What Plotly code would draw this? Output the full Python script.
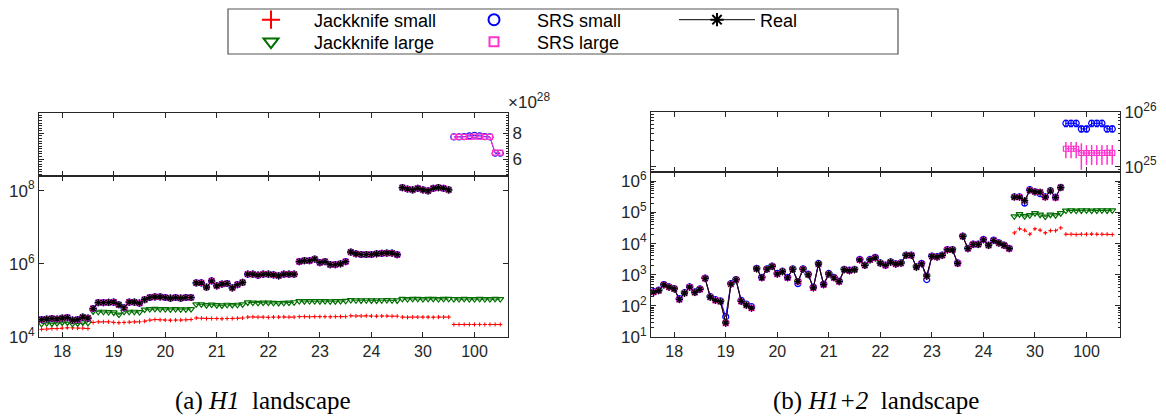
import plotly.graph_objects as go

W, H = 1166, 416

groups = ["18", "19", "20", "21", "22", "23", "24", "30", "100"]
tick_pos = [5, 15, 25, 35, 45, 55, 65, 75, 85]

# ---------------- (a) H1 landscape ----------------
h1_real = [
    [3.0e4, 3.1e4, 3.2e4, 3.1e4, 3.3e4, 3.4e4, 2.9e4, 3.0e4, 3.5e4, 3.3e4],
    [6.0e4, 8.7e4, 8.7e4, 8.8e4, 9.0e4, 7.6e4, 6.3e4, 9.0e4, 9.0e4, 8.4e4],
    [1.05e5, 1.2e5, 1.25e5, 1.25e5, 1.2e5, 1.15e5, 1.2e5, 1.15e5, 1.2e5, 1.2e5],
    [3.0e5, 3.0e5, 2.3e5, 3.4e5, 2.5e5, 2.8e5, 2.9e5, 2.2e5, 2.7e5, 3.1e5],
    [5.2e5, 5.2e5, 4.9e5, 5.2e5, 5.2e5, 5.0e5, 4.7e5, 5.2e5, 5.2e5, 5.2e5],
    [1.15e6, 1.22e6, 1.22e6, 1.35e6, 1.08e6, 1.15e6, 0.95e6, 0.95e6, 1.0e6, 1.15e6],
    [2.1e6, 1.88e6, 1.8e6, 1.8e6, 1.8e6, 1.88e6, 1.93e6, 1.97e6, 1.97e6, 1.78e6],
    [1.21e8, 1.11e8, 1.05e8, 1.16e8, 1.05e8, 0.98e8, 1.16e8, 1.21e8, 1.16e8, 1.05e8],
    None,
]
h1_jk_large = [
    [2.3e4, 2.4e4, 2.35e4, 2.4e4, 2.5e4, 2.5e4, 2.3e4, 2.35e4, 2.5e4, 2.45e4],
    [5.0e4, 4.9e4, 4.9e4, 4.8e4, 4.7e4, 4.1e4, 4.9e4, 4.9e4, 4.9e4, 4.8e4],
    [5.6e4, 5.8e4, 5.9e4, 5.8e4, 5.8e4, 5.7e4, 5.8e4, 5.7e4, 5.7e4, 5.8e4],
    [7.8e4, 7.8e4, 7.4e4, 7.7e4, 7.4e4, 7.3e4, 7.6e4, 7.5e4, 7.6e4, 7.8e4],
    [8.8e4, 8.7e4, 8.6e4, 8.7e4, 8.7e4, 8.6e4, 8.5e4, 8.6e4, 8.7e4, 8.9e4],
    [9.6e4, 9.5e4, 9.6e4, 9.6e4, 9.5e4, 9.6e4, 9.4e4, 9.5e4, 9.6e4, 9.7e4],
    [1.02e5, 1.01e5, 1.0e5, 1.01e5, 1.0e5, 1.0e5, 1.01e5, 1.02e5, 1.01e5, 1.0e5],
    [1.1e5, 1.09e5, 1.1e5, 1.1e5, 1.09e5, 1.1e5, 1.1e5, 1.09e5, 1.1e5, 1.1e5],
    [1.09e5, 1.09e5, 1.1e5, 1.09e5, 1.09e5, 1.1e5, 1.09e5, 1.09e5, 1.1e5, 1.09e5],
]
h1_jk_small = [
    [1.62e4, 1.65e4, 1.7e4, 1.7e4, 1.75e4, 1.8e4, 1.78e4, 1.75e4, 1.75e4, 1.7e4],
    [2.5e4, 2.6e4, 2.6e4, 2.6e4, 2.5e4, 2.45e4, 2.5e4, 2.55e4, 2.6e4, 2.6e4],
    [2.7e4, 2.9e4, 3.0e4, 2.95e4, 2.9e4, 2.85e4, 2.9e4, 2.9e4, 2.95e4, 3.0e4],
    [3.3e4, 3.25e4, 3.2e4, 3.2e4, 3.2e4, 3.15e4, 3.2e4, 3.2e4, 3.25e4, 3.3e4],
    [3.5e4, 3.55e4, 3.5e4, 3.5e4, 3.45e4, 3.5e4, 3.5e4, 3.55e4, 3.5e4, 3.5e4],
    [3.6e4, 3.6e4, 3.55e4, 3.6e4, 3.6e4, 3.6e4, 3.55e4, 3.6e4, 3.6e4, 3.6e4],
    [3.8e4, 3.75e4, 3.75e4, 3.8e4, 3.75e4, 3.7e4, 3.75e4, 3.75e4, 3.7e4, 3.7e4],
    [3.5e4, 3.45e4, 3.5e4, 3.5e4, 3.5e4, 3.5e4, 3.45e4, 3.5e4, 3.5e4, 3.5e4],
    [2.2e4, 2.2e4, 2.2e4, 2.2e4, 2.2e4, 2.2e4, 2.2e4, 2.2e4, 2.2e4, 2.2e4],
]
# SRS estimates coincide with the real values for 18..30 (markers overlap)
h1_srs_small = h1_real[:8] + [None]
h1_srs_large = h1_real[:8] + [None]
# group 100: SRS values (upper axis, x10^28)
h1_srs_small_100 = [7.72e28, 7.72e28, 7.74e28, 7.8e28, 7.85e28, 7.8e28, 7.74e28, 7.72e28, 6.45e28, 6.45e28]
h1_srs_large_100 = [7.72e28, 7.72e28, 7.72e28, 7.72e28, 7.74e28, 7.74e28, 7.72e28, 7.72e28, 6.5e28, 6.5e28]

# ---------------- (b) H1+2 landscape ----------------
h12_real = [
    [275, 310, 475, 400, 350, 160, 255, 400, 270, 340],
    [760, 190, 150, 137, 28, 500, 690, 140, 105, 85],
    [1550, 800, 1500, 1850, 1050, 1250, 800, 1500, 600, 1500],
    [1000, 380, 2200, 480, 1050, 800, 600, 1450, 1350, 1450],
    [3000, 2000, 3000, 3500, 2350, 2000, 2550, 2200, 2350, 4200],
    [4200, 1750, 2250, 900, 3900, 3700, 4200, 6300, 6300, 2300],
    [17000, 6900, 9400, 9400, 13300, 8800, 12600, 10400, 8800, 6900],
    [3.1e5, 3.1e5, 2.4e5, 5.2e5, 4.6e5, 4.5e5, 3.1e5, 4.9e5, 3.0e5, 6.3e5],
    None,
]
h12_srs_small = [
    [285, 320, 480, 410, 360, 170, 265, 410, 280, 350],
    [780, 200, 160, 145, 45, 520, 700, 150, 115, 95],
    [1600, 820, 1550, 1900, 1100, 1300, 820, 1550, 520, 1550],
    [1050, 400, 2300, 500, 1100, 830, 620, 1500, 1400, 1500],
    [3100, 2050, 3100, 3600, 2400, 2050, 2600, 2250, 2400, 4300],
    [4300, 1800, 2300, 700, 4000, 3800, 4300, 6400, 6400, 2400],
    [17500, 7000, 9600, 9600, 13600, 9000, 12900, 10600, 9000, 7000],
    [3.2e5, 3.2e5, 2.0e5, 5.4e5, 4.6e5, 4.0e5, 3.2e5, 5.0e5, 3.1e5, 6.4e5],
    None,
]
h12_srs_small_err = [0] * 70 + [5e4, 5e4, 4e4, 8e4, 7e4, 6e4, 5e4, 8e4, 5e4, 1e5]
h12_srs_large = h12_real[:8] + [None]
h12_jk_large = h12_real[:7] + [
    [75000, 88000, 76000, 82000, 95000, 85000, 74000, 85000, 82000, 95000],
    [1.15e5, 1.17e5, 1.15e5, 1.16e5, 1.17e5, 1.15e5, 1.16e5, 1.17e5, 1.16e5, 1.17e5],
]
h12_jk_small = h12_real[:7] + [
    [22000, 30000, 27000, 20000, 30000, 27000, 22000, 26000, 26000, 32000],
    [2.0e4, 2.0e4, 1.95e4, 2.0e4, 2.0e4, 2.05e4, 2.0e4, 2.0e4, 2.0e4, 1.95e4],
]
h12_srs_small_100 = [6.2e25, 6.2e25, 6.2e25, 4.9e25, 4.9e25, 6.2e25, 6.2e25, 6.2e25, 4.9e25, 4.9e25]
h12_srs_small_100_err = [0.8e25, 0.8e25, 0.8e25, 0.6e25, 0.6e25, 0.8e25, 0.8e25, 0.8e25, 0.6e25, 0.6e25]
h12_srs_large_100 = [2.12e25, 2.12e25, 2.12e25, 1.77e25, 1.77e25, 1.77e25, 1.77e25, 1.77e25, 1.78e25, 1.78e25]
h12_srs_large_100_err = [0.7e25, 0.7e25, 0.7e25, 0.9e25, 0.7e25, 0.7e25, 0.7e25, 0.7e25, 0.7e25, 0.7e25]

h1_yticks = [1e4, 1e6, 1e8]
h1_yticktext = ["10<sup>4</sup>", "10<sup>6</sup>", "10<sup>8</sup>"]
h1_top_yticks = [6e28, 8e28]
h1_top_yticktext = ["6", "8"]
h12_yticks = [1e1, 1e2, 1e3, 1e4, 1e5, 1e6]
h12_yticktext = ["10<sup>1</sup>", "10<sup>2</sup>", "10<sup>3</sup>", "10<sup>4</sup>", "10<sup>5</sup>", "10<sup>6</sup>"]
h12_top_yticks = [1e25, 1e26]
h12_top_yticktext = ["10<sup>25</sup>", "10<sup>26</sup>"]

# ---------------- styles ----------------
C_RED = "#FF0000"
C_GREEN = "#006E00"
C_BLUE = "#0000FF"
C_MAG = "#FF33CC"
C_BLACK = "#000000"
AX = "#262626"
SANS = "Liberation Sans, Arial, sans-serif"
SERIF = "Liberation Serif, Times New Roman, serif"


def grouped_xy(vals_by_group):
    xs, ys = [], []
    for g, vals in enumerate(vals_by_group):
        if vals is None:
            continue
        xs += [g * 10 + j + 1 for j in range(len(vals))] + [None]
        ys += list(vals) + [None]
    return xs, ys


def group_x(g, n):
    return [g * 10 + j + 1 for j in range(n)]


STY = {
    "jk_small": dict(line=dict(color=C_RED, width=1, dash="dot"),
                     marker=dict(symbol="cross-thin-open", size=3, color=C_RED, line=dict(color=C_RED, width=1))),
    "jk_large": dict(line=dict(color=C_GREEN, width=1),
                     marker=dict(symbol="triangle-down-open", size=6, color=C_GREEN, line=dict(color=C_GREEN, width=1.2))),
    "srs_small": dict(line=dict(color=C_BLUE, width=1),
                      marker=dict(symbol="circle-open", size=6, color=C_BLUE, line=dict(color=C_BLUE, width=1.2))),
    "srs_large": dict(line=dict(color=C_MAG, width=1),
                      marker=dict(symbol="square-open", size=5, color=C_MAG, line=dict(color=C_MAG, width=1.2))),
    "real": dict(line=dict(color=C_BLACK, width=1),
                 marker=dict(symbol="asterisk-open", size=6, color=C_BLACK, line=dict(color=C_BLACK, width=1.2))),
}
LEG_SIZE = {"jk_small": 13, "jk_large": 13, "srs_small": 11, "srs_large": 9, "real": 11}

fig = go.Figure()


def add(name_key, x, y, xa, ya, **kw):
    fig.add_trace(go.Scatter(x=x, y=y, mode="lines+markers", xaxis=xa, yaxis=ya,
                             showlegend=False, hoverinfo="skip", **STY[name_key], **kw))


# (a) bottom panel: x2/y2, top panel: x/y
for key, data in [("jk_small", h1_jk_small), ("jk_large", h1_jk_large),
                  ("srs_small", h1_srs_small), ("srs_large", h1_srs_large), ("real", h1_real)]:
    xs, ys = grouped_xy(data)
    add(key, xs, ys, "x2", "y2")
add("srs_small", group_x(8, 10), h1_srs_small_100, "x", "y")
add("srs_large", group_x(8, 10), h1_srs_large_100, "x", "y")

# (b) bottom panel: x4/y4, top panel: x3/y3
for key, data in [("jk_small", h12_jk_small), ("jk_large", h12_jk_large)]:
    xs, ys = grouped_xy(data)
    add(key, xs, ys, "x4", "y4")
xs, ys = grouped_xy(h12_srs_small)
err = []
k = 0
for v in ys:
    if v is None:
        err.append(0)
    else:
        err.append(h12_srs_small_err[k])
        k += 1
add("srs_small", xs, ys, "x4", "y4",
    error_y=dict(type="data", array=err, color=C_BLUE, thickness=1, width=0))
for key, data in [("srs_large", h12_srs_large), ("real", h12_real)]:
    xs, ys = grouped_xy(data)
    add(key, xs, ys, "x4", "y4")
add("srs_small", group_x(8, 10), h12_srs_small_100, "x3", "y3",
    error_y=dict(type="data", array=h12_srs_small_100_err, color=C_BLUE, thickness=1.2, width=2))
add("srs_large", group_x(8, 10), h12_srs_large_100, "x3", "y3",
    error_y=dict(type="data", array=h12_srs_large_100_err, color=C_MAG, thickness=1.5, width=0))

# ---------------- legend proxies ----------------
leg_items = [
    ("Jackknife small", "jk_small", "legend", "markers"),
    ("SRS small", "srs_small", "legend", "markers"),
    ("Real", "real", "legend", "lines+markers"),
    ("Jackknife large", "jk_large", "legend2", "markers"),
    ("SRS large", "srs_large", "legend2", "markers"),
]
for name, key, leg, mode in leg_items:
    st = STY[key]
    mk = dict(st["marker"])
    mk["size"] = LEG_SIZE[key]
    mk["line"] = dict(color=st["marker"]["color"], width=2)
    fig.add_trace(go.Scatter(x=[None], y=[None], mode=mode, name=name, legend=leg,
                             marker=mk, line=dict(color=st["line"]["color"], width=1),
                             xaxis="x2", yaxis="y2", showlegend=True))


def px_x(p):
    return p / W


def px_y(p):
    return 1 - p / H


xL = [px_x(39), px_x(508)]
xR = [px_x(651), px_x(1120)]

common_x = dict(range=[0.5, 91.5], tickvals=tick_pos, ticktext=groups, ticks="inside", ticklen=5,
                tickcolor=AX, showline=True, linecolor=AX, linewidth=1, mirror="ticks",
                showgrid=False, zeroline=False, tickfont=dict(family=SANS, size=16, color=AX))
common_y = dict(ticks="inside", ticklen=5, tickcolor=AX, showline=True, linecolor=AX, linewidth=1,
                mirror="ticks", showgrid=False, zeroline=False,
                tickfont=dict(family=SANS, size=17, color=AX))
minor_log = dict(dtick="D1", ticks="inside", ticklen=2.5, tickcolor=AX, showgrid=False)

leg_common = dict(orientation="h", xanchor="left", yanchor="middle",
                  font=dict(family=SANS, size=18, color="black"), itemwidth=76,
                  entrywidth=132, entrywidthmode="pixels", itemsizing="trace",
                  bgcolor="rgba(0,0,0,0)", borderwidth=0, traceorder="normal")

layout = dict(
    width=W, height=H,
    margin=dict(l=0, r=0, t=0, b=0, autoexpand=False),
    paper_bgcolor="white", plot_bgcolor="white",
    xaxis=dict(domain=xL, anchor="y", showticklabels=False, **common_x),
    xaxis2=dict(domain=xL, anchor="y2", **common_x),
    xaxis3=dict(domain=xR, anchor="y3", showticklabels=False, **common_x),
    xaxis4=dict(domain=xR, anchor="y4", **common_x),
    yaxis=dict(domain=[px_y(176), px_y(113)], anchor="x", side="right", type="linear",
               range=[4.68e28, 9.58e28], tickvals=h1_top_yticks, ticktext=h1_top_yticktext,
               minor=dict(dtick=0.2e28, ticks="inside", ticklen=2.5, tickcolor=AX, showgrid=False),
               **common_y),
    yaxis2=dict(domain=[px_y(337), px_y(176)], anchor="x2", type="log", range=[4, 8.4],
                tickvals=h1_yticks, ticktext=h1_yticktext, **common_y),
    yaxis3=dict(domain=[px_y(172), px_y(112)], anchor="x3", side="right", type="log",
                range=[24.9, 26.0], tickvals=h12_top_yticks, ticktext=h12_top_yticktext,
                minor=minor_log, **common_y),
    yaxis4=dict(domain=[px_y(337), px_y(172)], anchor="x4", type="log", range=[1, 6.3],
                tickvals=h12_yticks, ticktext=h12_yticktext, minor=minor_log, **common_y),
    legend=dict(x=px_x(228), y=px_y(20), **leg_common),
    legend2=dict(x=px_x(228), y=px_y(42), **leg_common),
    shapes=[dict(type="rect", xref="paper", yref="paper", x0=px_x(228), x1=px_x(898),
                 y0=px_y(54), y1=px_y(9), line=dict(color="#555555", width=1.2))],
    annotations=[
        dict(text="×10<sup>28</sup>", xref="paper", yref="paper", x=px_x(506), y=px_y(101),
             xanchor="left", yanchor="middle", showarrow=False,
             font=dict(family=SANS, size=17, color=AX)),
        dict(text="(a) <i>H1</i>  landscape", xref="paper", yref="paper", x=px_x(263), y=px_y(401),
             xanchor="center", yanchor="middle", showarrow=False,
             font=dict(family=SERIF, size=25, color="black")),
        dict(text="(b) <i>H1+2</i>  landscape", xref="paper", yref="paper", x=px_x(876), y=px_y(401),
             xanchor="center", yanchor="middle", showarrow=False,
             font=dict(family=SERIF, size=25, color="black")),
    ],
)
fig.update_layout(**layout)
fig.write_html("out.html", config={"displayModeBar": False},
               post_script="document.body.style.margin='0';document.body.style.padding='0';")
